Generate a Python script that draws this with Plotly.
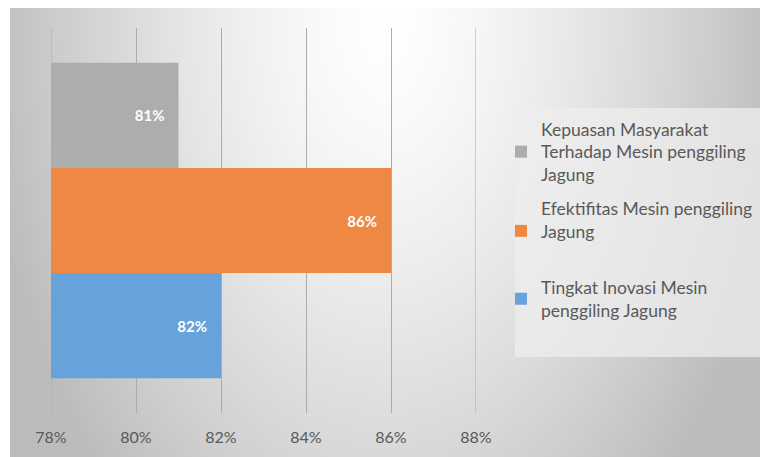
import base64, struct, zlib
import numpy as np
import plotly.graph_objects as go

# ---- data ----
series_names = [
    "Tingkat Inovasi Mesin<br>penggiling Jagung",
    "Efektifitas Mesin penggiling<br>Jagung<br>\u00a0",
    "Kepuasan Masyarakat<br>Terhadap Mesin penggiling<br>Jagung",
]
series_values = [0.82, 0.86, 0.81]
series_colors = ["#67A2DA", "#EE8843", "#ADADAD"]
legend_ranks = [3, 2, 1]
category = [""]
tick_vals = [0.78, 0.80, 0.82, 0.84, 0.86, 0.88]

# ---- background gradient image ----
def make_png(arr):
    h, w = arr.shape
    raw = b"".join(b"\x00" + arr[i].tobytes() for i in range(h))
    def chunk(tag, data):
        return struct.pack(">I", len(data)) + tag + data + struct.pack(">I", zlib.crc32(tag + data) & 0xFFFFFFFF)
    return (b"\x89PNG\r\n\x1a\n" + chunk(b"IHDR", struct.pack(">IIBBBBB", w, h, 8, 0, 0, 0, 0))
            + chunk(b"IDAT", zlib.compress(raw, 9)) + chunk(b"IEND", b""))

W, H = 375, 225
xs = np.linspace(10, 760, W)
ys = np.linspace(8, 457, H)
X, Y = np.meshgrid(xs, ys)
d = np.sqrt(((X - 385) / 375) ** 2 + ((Y - 20) / 600) ** 2)
v = np.clip(255 - 60 * d ** 1.4, 188, 255).astype(np.uint8)
img_src = "data:image/png;base64," + base64.b64encode(make_png(v)).decode()

# plot area in pixels
L, R, T, B = 51, 476, 28, 413
def px(x):
    return (x - L) / (R - L)
def py(y):
    return (B - y) / (B - T)

GRID = "#ABABAB"

fig = go.Figure()
for name, val, col, rk in zip(series_names, series_values, series_colors, legend_ranks):
    fig.add_trace(go.Bar(
        y=category, x=[val], name=name, orientation="h",
        marker=dict(color=col, line=dict(width=0)),
        texttemplate="%{x:.0%}\u00a0\u00a0\u00a0", textposition="inside",
        insidetextanchor="end",
        textfont=dict(family="Lato", size=15, color="white", weight="bold"),
        legendgroup=name, legendrank=rk,
    ))

# edge gridlines (plotly omits gridlines that sit on the plot edges)
edge_lines = [dict(type="line", xref="x", yref="paper", x0=t, x1=t, y0=0, y1=1,
                   line=dict(color=GRID, width=1), layer="below")
              for t in (tick_vals[0], tick_vals[-1])]

fig.update_layout(
    width=760, height=457,
    margin=dict(l=L, r=760 - R, t=T, b=457 - B, pad=0, autoexpand=False),
    paper_bgcolor="white", plot_bgcolor="rgba(0,0,0,0)",
    barmode="group", bargap=0.18, bargroupgap=0,
    font=dict(family="Lato", size=15, color="#595959"),
    xaxis=dict(range=[tick_vals[0], tick_vals[-1]], tickvals=tick_vals, tickformat=".0%",
               showgrid=True, gridcolor=GRID, gridwidth=1,
               zeroline=False, showline=False, ticks="", ticklabelstandoff=13,
               tickfont=dict(size=16, color="#595959")),
    yaxis=dict(showticklabels=False, showgrid=False, zeroline=False, showline=False),
    legend=dict(x=px(501), y=py(111), xanchor="left", yanchor="top",
                traceorder="grouped", tracegroupgap=8,
                bgcolor="rgba(0,0,0,0)", font=dict(size=17.5, color="#595959")),
    images=[dict(source=img_src, xref="paper", yref="paper",
                 x=px(10), y=py(8), sizex=750 / (R - L), sizey=449 / (B - T),
                 xanchor="left", yanchor="top", sizing="stretch", layer="below")],
    shapes=[dict(type="rect", xref="paper", yref="paper",
                 x0=px(515), x1=px(762), y0=py(357), y1=py(108),
                 fillcolor="rgba(238,238,238,0.75)", line=dict(width=0), layer="below")]
           + edge_lines,
)

fig.write_html("out.html")
